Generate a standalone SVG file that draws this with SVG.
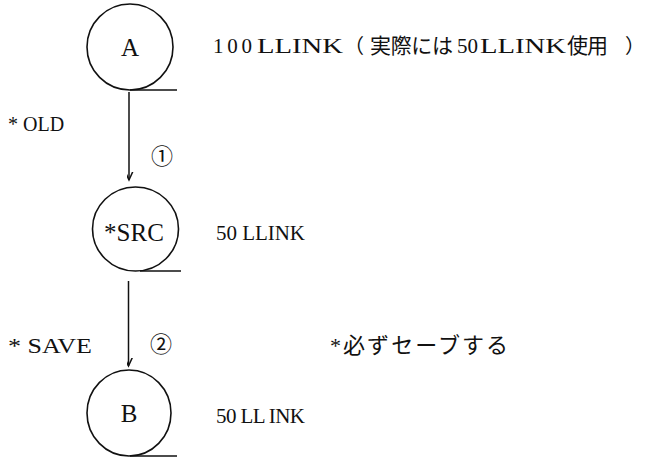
<svg xmlns="http://www.w3.org/2000/svg" width="645" height="457" viewBox="0 0 645 457">
  <style>
    .node { fill: none; stroke: #111; stroke-width: 1.6; }
    .tail { stroke: #111; stroke-width: 1.4; fill: none; }
    .edge { stroke: #111; stroke-width: 1.5; fill: none; }
    .lbl { font-family: "Liberation Serif", "Times New Roman", Times, "DejaVu Serif", "Noto Sans CJK JP", serif; fill: #111; }
  </style>
  <defs>
    <marker id="arrow" markerUnits="userSpaceOnUse" markerWidth="16" markerHeight="16" viewBox="-8 -14 16 16" refX="0" refY="0" orient="auto-start-reverse">
      <path d="M-5,-11 L0,0 L5,-11" transform="rotate(-90)" fill="none" stroke="#111" stroke-width="1.5"/>
    </marker>
  </defs>
  <rect width="645" height="457" fill="#fff"/>

  <!-- node A -->
  <g id="nodeA">
    <ellipse class="node" cx="130" cy="47" rx="43" ry="43"/>
    <path class="tail" d="M130,90 H177"/>
    <text class="lbl" x="130" y="56" font-size="25" text-anchor="middle">A</text>
  </g>

  <!-- node *SRC -->
  <g id="nodeSRC">
    <ellipse class="node" cx="135.5" cy="229" rx="43" ry="42"/>
    <path class="tail" d="M140,271 H181"/>
    <text class="lbl" x="134" y="241" font-size="25" text-anchor="middle">*SRC</text>
  </g>

  <!-- node B -->
  <g id="nodeB">
    <ellipse class="node" cx="129" cy="413" rx="42" ry="43"/>
    <path class="tail" d="M130,456 H177"/>
    <text class="lbl" x="129" y="422" font-size="25" text-anchor="middle">B</text>
  </g>

  <!-- connectors -->
  <g id="edges">
    <line class="edge" x1="129" y1="92" x2="129" y2="180" marker-end="url(#arrow)"/>
    <line class="edge" x1="128.5" y1="281" x2="128.5" y2="366" marker-end="url(#arrow)"/>
  </g>

  <!-- side notes -->
  <g id="notes">
    <g class="lbl" font-size="21">
      <text x="213" y="53" textLength="39" lengthAdjust="spacing">100</text>
      <text x="257" y="53" textLength="86" lengthAdjust="spacingAndGlyphs" font-size="22">LLINK</text>
      <text x="344" y="53" font-size="20">（</text>
      <text x="370" y="53" textLength="83" lengthAdjust="spacing">実際には</text>
      <text x="457" y="53" textLength="21" lengthAdjust="spacing">50</text>
      <text x="480" y="53" textLength="86" lengthAdjust="spacingAndGlyphs" font-size="22">LLINK</text>
      <text x="567" y="53" textLength="41" lengthAdjust="spacing">使用</text>
      <text x="625" y="53" font-size="20">）</text>
    </g>
    <text class="lbl" x="8" y="131" font-size="20">* OLD</text>
    <text class="lbl" x="151" y="164" font-size="22">①</text>
    <text class="lbl" x="216" y="240" font-size="21" textLength="89" lengthAdjust="spacing">50 LLINK</text>
    <text class="lbl" x="8" y="353" font-size="21" textLength="84" lengthAdjust="spacingAndGlyphs">* SAVE</text>
    <text class="lbl" x="150" y="352" font-size="22">②</text>
    <text class="lbl" x="330" y="353" font-size="22" textLength="178" lengthAdjust="spacing">*必ずセーブする</text>
    <text class="lbl" x="216" y="423" font-size="21" textLength="89" lengthAdjust="spacing">50 LL INK</text>
  </g>
</svg>
